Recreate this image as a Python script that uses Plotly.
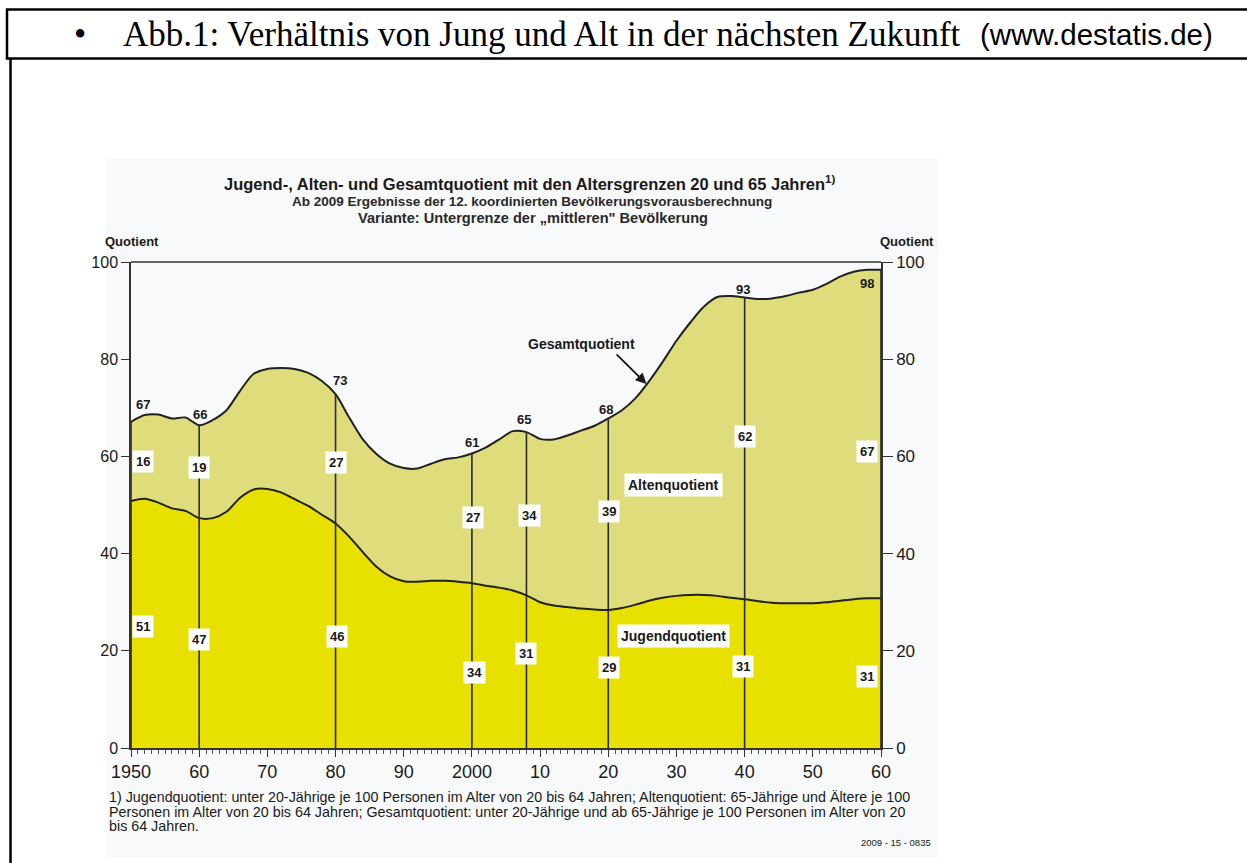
import numpy as np
import plotly.graph_objects as go

# ---------------- data ----------------
years = [1950, 1952, 1954, 1956, 1958, 1960, 1962, 1964, 1966, 1968, 1970, 1972, 1974, 1976, 1978,
         1980, 1982, 1984, 1986, 1988, 1990, 1992, 1994, 1996, 1998, 2000, 2002, 2004, 2006, 2008,
         2010, 2012, 2014, 2016, 2018, 2020, 2022, 2024, 2026, 2028, 2030, 2032, 2034, 2036, 2038,
         2040, 2042, 2044, 2046, 2048, 2050, 2052, 2054, 2056, 2058, 2060]
gesamt = [67.1, 68.5, 68.6, 67.8, 68.0, 66.4, 67.5, 69.5, 73.5, 77.0, 78.0, 78.2, 78.0, 77.2, 75.5,
          72.8, 68.0, 63.5, 60.5, 58.5, 57.6, 57.5, 58.5, 59.4, 59.8, 60.6, 61.8, 63.5, 65.2, 65.0,
          63.6, 63.5, 64.3, 65.3, 66.3, 67.8, 69.5, 72.0, 75.5, 79.5, 83.8, 87.5, 90.8, 92.8, 93.0,
          92.7, 92.4, 92.5, 93.0, 93.7, 94.3, 95.5, 97.0, 98.0, 98.4, 98.4]
jugend = [50.8, 51.3, 50.5, 49.3, 48.8, 47.3, 47.3, 48.6, 51.5, 53.2, 53.3, 52.6, 51.2, 49.8, 48.0,
          46.2, 43.5, 40.3, 37.3, 35.3, 34.3, 34.2, 34.4, 34.4, 34.2, 33.9, 33.4, 33.0, 32.4, 31.4,
          30.0, 29.3, 29.0, 28.7, 28.5, 28.4, 28.8, 29.5, 30.3, 30.9, 31.3, 31.5, 31.5, 31.3, 30.9,
          30.6, 30.2, 29.9, 29.8, 29.8, 29.8, 30.0, 30.3, 30.6, 30.8, 30.8]

marker_years = [1950, 1960, 1980, 2000, 2008, 2020, 2040, 2060]
gesamt_labels = [67, 66, 73, 61, 65, 68, 93, 98]
alten_labels = [16, 19, 27, 27, 34, 39, 62, 67]
jugend_labels = [51, 47, 46, 34, 31, 29, 31, 31]

x_tickvals = [1950, 1960, 1970, 1980, 1990, 2000, 2010, 2020, 2030, 2040, 2050, 2060]
x_ticktext = ["1950", "60", "70", "80", "90", "2000", "10", "20", "30", "40", "50", "60"]
y_tickvals = [0, 20, 40, 60, 80, 100]

footnote_lines = [
    "1) Jugendquotient: unter 20-Jährige je 100 Personen im Alter von 20 bis 64 Jahren; "
    "Altenquotient: 65-Jährige und Ältere je 100",
    "Personen im Alter von 20 bis 64 Jahren; Gesamtquotient: unter 20-Jährige und ab 65-Jährige "
    "je 100 Personen im Alter von 20",
    "bis 64 Jahren.",
]

# label placement (data coordinates)
gesamt_lab_pos = [(1951.7, 70.6), (1960.1, 68.7), (1980.7, 75.7), (2000.0, 62.8),
                  (2007.6, 67.5), (2019.6, 69.7), (2039.7, 94.4), (2057.9, 95.5)]
alten_lab_pos = [(1951.7, 58.9), (1959.9, 57.7), (1980.0, 58.8), (2000.2, 47.4),
                 (2008.5, 47.9), (2020.1, 48.6), (2040.0, 64.0), (2057.9, 61.1)]
jugend_lab_pos = [(1951.7, 25.1), (1960.0, 22.4), (1980.2, 23.0), (2000.4, 15.6),
                  (2008.0, 19.5), (2020.1, 16.6), (2039.8, 16.7), (2057.9, 14.7)]

# ---------------- styling ----------------
W, H = 1247, 863
PX0, PX1, PY0, PY1 = 131, 881, 262, 748   # plot area in pixels
def px(x): return x / W
def py(y): return 1 - y / H

FONT = "Liberation Sans, Arial, sans-serif"
TXT = "#1a1a1a"
C_JUNG = "#e8e100"
C_ALT = "#dfdc7c"
BG = "#f8f9fa"

fig = go.Figure()

fig.add_trace(go.Scatter(x=years, y=jugend, mode="lines", fill="tozeroy", fillcolor=C_JUNG,
                         line=dict(color="#222222", width=2, shape="spline", smoothing=0.8),
                         hoverinfo="skip", showlegend=False))
fig.add_trace(go.Scatter(x=years, y=gesamt, mode="lines", fill="tonexty", fillcolor=C_ALT,
                         line=dict(color="#222222", width=2, shape="spline", smoothing=0.8),
                         hoverinfo="skip", showlegend=False))

# vertical marker lines up to the total curve
vx, vy = [], []
for yr in marker_years:
    top = float(np.interp(yr, years, gesamt))
    vx += [yr, yr, None]
    vy += [0, top, None]
fig.add_trace(go.Scatter(x=vx, y=vy, mode="lines", line=dict(color="#2a2a2a", width=1.6),
                         hoverinfo="skip", showlegend=False))

# dummy trace for right axis
fig.add_trace(go.Scatter(x=[1950], y=[0], yaxis="y2", mode="markers", marker=dict(opacity=0),
                         hoverinfo="skip", showlegend=False))

def A(**kw):
    kw.setdefault("showarrow", False)
    kw.setdefault("xanchor", "center")
    kw.setdefault("yanchor", "middle")
    return kw

ann = []
for (x, y), v in zip(gesamt_lab_pos, gesamt_labels):
    ann.append(A(x=x, y=y, xref="x", yref="y", text=f"<b>{v}</b>",
                 font=dict(family=FONT, size=13, color=TXT)))
for (x, y), v in zip(alten_lab_pos, alten_labels):
    ann.append(A(x=x, y=y, xref="x", yref="y", text=f"<b>{v}</b>",
                 bgcolor="white", borderpad=3, font=dict(family=FONT, size=13, color=TXT)))
for (x, y), v in zip(jugend_lab_pos, jugend_labels):
    ann.append(A(x=x, y=y, xref="x", yref="y", text=f"<b>{v}</b>",
                 bgcolor="white", borderpad=3, font=dict(family=FONT, size=13, color=TXT)))

ann.append(A(x=2016.1, y=83.1, xref="x", yref="y", text="<b>Gesamtquotient</b>",
             font=dict(family=FONT, size=14, color=TXT)))
ann.append(dict(x=2025.6, y=74.9, ax=2021.0, ay=81.3, xref="x", yref="y", axref="x", ayref="y",
                text="", showarrow=True, arrowhead=2, arrowsize=1.2, arrowwidth=1.8,
                arrowcolor="#1a1a1a"))
ann.append(A(x=2029.6, y=54.1, xref="x", yref="y", text="<b>Altenquotient</b>",
             bgcolor="white", borderpad=3, font=dict(family=FONT, size=14, color=TXT)))
ann.append(A(x=2029.6, y=23.0, xref="x", yref="y", text="<b>Jugendquotient</b>",
             bgcolor="white", borderpad=3, font=dict(family=FONT, size=14, color=TXT)))

# chart titles
ann.append(A(x=px(530), y=py(183), xref="paper", yref="paper",
             text="<b>Jugend-, Alten- und Gesamtquotient mit den Altersgrenzen 20 und 65 Jahren<sup>1)</sup></b>",
             font=dict(family=FONT, size=16.5, color=TXT)))
ann.append(A(x=px(532), y=py(201), xref="paper", yref="paper",
             text="<b>Ab 2009 Ergebnisse der 12. koordinierten Bevölkerungsvorausberechnung</b>",
             font=dict(family=FONT, size=13.5, color="#2a2a2a")))
ann.append(A(x=px(533), y=py(218), xref="paper", yref="paper",
             text="<b>Variante: Untergrenze der „mittleren\" Bevölkerung</b>",
             font=dict(family=FONT, size=14.6, color="#2a2a2a")))
ann.append(A(x=px(103), y=py(241), xref="paper", yref="paper", xanchor="left",
             text="<b>Quotient</b>", font=dict(family=FONT, size=13, color=TXT)))
ann.append(A(x=px(936), y=py(241), xref="paper", yref="paper", xanchor="right",
             text="<b>Quotient</b>", font=dict(family=FONT, size=13, color=TXT)))

# footnote
for i, line in enumerate(footnote_lines):
    ann.append(A(x=px(107), y=py(797 + 14.5 * i), xref="paper", yref="paper", xanchor="left",
                 text=line, font=dict(family=FONT, size=14.3, color=TXT)))
ann.append(A(x=px(933), y=py(842), xref="paper", yref="paper", xanchor="right",
             text="2009 - 15 - 0835", font=dict(family=FONT, size=9.5, color=TXT)))

# page header
SERIF = "Liberation Serif, DejaVu Serif, serif"
ann.append(A(x=px(80), y=py(35), xref="paper", yref="paper",
             text="•", font=dict(family=SERIF, size=35, color="black")))
ann.append(A(x=px(121), y=py(35), xref="paper", yref="paper", xanchor="left",
             text="Abb.1: Verhältnis von Jung und Alt in der nächsten Zukunft",
             font=dict(family=SERIF, size=35, color="black")))
ann.append(A(x=px(1215), y=py(35), xref="paper", yref="paper", xanchor="right",
             text="(www.destatis.de)",
             font=dict(family="Liberation Sans, Arial, sans-serif", size=29.5, color="black")))

shapes = [
    # image background
    dict(type="rect", xref="paper", yref="paper", x0=px(106), x1=px(938), y0=py(857), y1=py(158),
         fillcolor=BG, line=dict(width=0), layer="below"),
    # header box
    dict(type="rect", xref="paper", yref="paper", x0=px(7), x1=px(1260), y0=py(58.5), y1=py(9.5),
         fillcolor="rgba(0,0,0,0)", line=dict(color="black", width=2.5)),
    # left page line
    dict(type="line", xref="paper", yref="paper", x0=px(10.5), x1=px(10.5), y0=py(59), y1=py(870),
         line=dict(color="black", width=2.5)),
    # top frame line
    dict(type="line", xref="paper", yref="paper", x0=px(PX0), x1=px(PX1), y0=py(PY0), y1=py(PY0),
         line=dict(color="#333333", width=1.5)),
]

fig.update_layout(
    width=W, height=H,
    margin=dict(l=0, r=0, t=0, b=0, pad=0, autoexpand=False),
    paper_bgcolor="white",
    plot_bgcolor=BG,
    showlegend=False,
    hovermode=False,
    annotations=ann,
    shapes=shapes,
    xaxis=dict(domain=[px(PX0), px(PX1)], range=[1950, 2060], tickvals=x_tickvals, ticktext=x_ticktext,
               ticks="outside", ticklen=7, tickwidth=1.3, tickcolor="#333333",
               minor=dict(dtick=1, tick0=1950, ticks="outside", ticklen=4, tickcolor="#555555", tickwidth=1),
               showgrid=False, zeroline=False, showline=True, linecolor="#333333", linewidth=1.5,
               tickfont=dict(family=FONT, size=18, color=TXT)),
    yaxis=dict(domain=[py(PY1), py(PY0)], range=[0, 100], tickvals=y_tickvals,
               ticks="outside", ticklen=8, tickwidth=1.3, tickcolor="#333333",
               showgrid=False, zeroline=False, showline=True, linecolor="#333333", linewidth=1.5,
               tickfont=dict(family=FONT, size=16, color=TXT)),
    yaxis2=dict(overlaying="y", side="right", range=[0, 100], tickvals=y_tickvals,
                ticks="outside", ticklen=10, tickwidth=1.3, tickcolor="#333333",
                showgrid=False, zeroline=False, showline=True, linecolor="#333333", linewidth=1.5,
                tickfont=dict(family=FONT, size=17, color=TXT)),
)

fig.write_html("out.html", config={"displayModeBar": False},
               post_script="document.body.style.margin='0px';")
